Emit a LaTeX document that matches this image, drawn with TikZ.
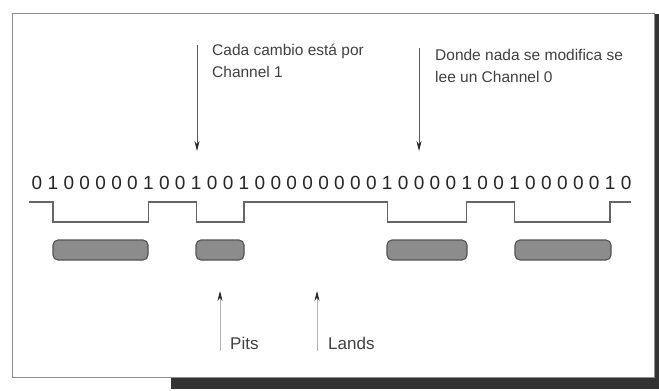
\documentclass[tikz,border=0pt]{standalone}
\usepackage{fontspec}
\setmainfont{Liberation Sans}
\usetikzlibrary{arrows.meta}
\begin{document}
\begin{tikzpicture}[x=1pt,y=-1pt,
 bitdigit/.style={font=\fontsize{19}{19}\selectfont, text=black!85, inner sep=0},
 pit/.style={draw=black!68, fill=black!45, rounded corners=5pt, line width=1.1pt, minimum height=20pt, inner sep=0},
 note/.style={font=\fontsize{15.5}{22}\selectfont, text=black!75, align=left, inner sep=0, anchor=west},
 sublabel/.style={font=\fontsize{17}{18}\selectfont, text=black!75, inner sep=0, anchor=west},
 downarrow/.style={draw=black!65, line width=0.8pt, -{Stealth[length=10pt,width=5pt,color=black!85]}},
 uparrow/.style={draw=black!30, line width=0.8pt, -{Stealth[length=10pt,width=5pt,color=black!85]}},
 wave/.style={draw=black!60, line width=1.3pt},
]
\useasboundingbox[fill=white] (0,0) rectangle (659,391);
% shadow and frame
\fill[black!80] (171,377) rectangle (659,389);
\fill[black!80] (653,14) rectangle (659,389);
\draw[black!45, line width=0.8pt, fill=white] (12,13) rectangle (654,377);

% bits
\foreach \b [count=\i from 0] in {0,1,0,0,0,0,0,1,0,0,1,0,0,1,0,0,0,0,0,0,0,0,1,0,0,0,0,1,0,0,1,0,0,0,0,0,1,0}
  \node[bitdigit] (b\i) at ({37+15.92*\i},183) {\b};

% signal levels
\coordinate (hi) at (0,202);
\coordinate (lo) at (0,222);
\coordinate (ws) at (29,202);
\coordinate (we) at (631,202);
\draw[wave] (ws) -- (b1|-hi) -- (b1|-lo) -- (b7|-lo) -- (b7|-hi) -- (b10|-hi) -- (b10|-lo)
  -- (b13|-lo) -- (b13|-hi) -- (b22|-hi) -- (b22|-lo) -- (b27|-lo) -- (b27|-hi)
  -- (b30|-hi) -- (b30|-lo) -- (b36|-lo) -- (b36|-hi) -- (we);

% pits
\node[pit, minimum width=95pt] (pit1) at (100.5,250) {};
\node[pit, minimum width=48pt] (pit2) at (220,250) {};
\node[pit, minimum width=80pt] (pit3) at (427,250) {};
\node[pit, minimum width=96pt] (pit4) at (563,250) {};

% notes with down arrows
\node[note] (n1) at (212,61) {Cada cambio está por\\Channel 1};
\node[note] (n2) at (435,66) {Donde nada se modifica se\\lee un Channel 0};
\coordinate (d1s) at (197,45);
\coordinate (d1e) at (197,151);
\coordinate (d2s) at (419,48);
\coordinate (d2e) at (419,151);
\draw[downarrow] (d1s) -- (d1e);
\draw[downarrow] (d2s) -- (d2e);

% pits / lands labels with up arrows
\node[sublabel] (lp) at (230,343) {Pits};
\node[sublabel] (ll) at (328,343) {Lands};
\coordinate (u1s) at (220,351);
\coordinate (u1e) at (220,291);
\coordinate (u2s) at (317,351);
\coordinate (u2e) at (317,291);
\draw[uparrow] (u1s) -- (u1e);
\draw[uparrow] (u2s) -- (u2e);
\end{tikzpicture}
\end{document}
